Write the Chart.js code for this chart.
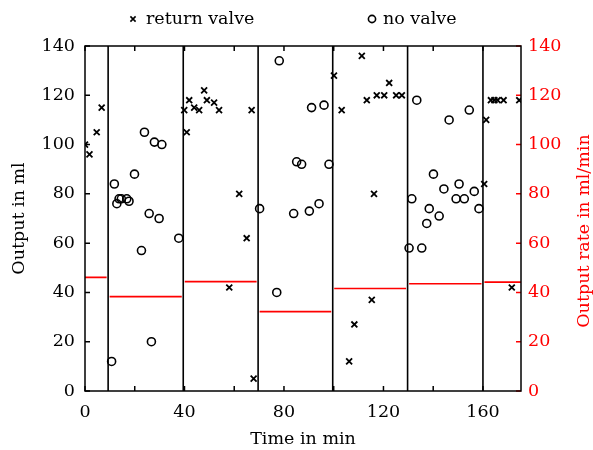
<!DOCTYPE html>
<html>
<head>
<meta charset="utf-8">
<script src="https://cdn.jsdelivr.net/npm/chart.js@4.4.1/dist/chart.umd.min.js"></script>
<style>
  html, body { margin: 0; padding: 0; background: #fff; }
  #wrap { width: 593px; height: 450px; }
</style>
</head>
<body>
<div id="wrap"><canvas id="chart" width="593" height="450"></canvas></div>
<script>
// values: time in min, output in ml
const returnValveTime = [0, 1.8, 4.7, 6.7, 39.9, 40.9, 41.9, 43.9, 45.9, 47.9, 49.0, 51.9, 53.9,
    58.0, 62.0, 65.0, 67.0, 67.8, 100.1, 103.2, 106.2, 108.3, 111.3, 113.3, 115.3, 116.2, 117.3,
    120.3, 122.3, 125.1, 127.4, 160.5, 161.3, 163.2, 164.6, 165.9, 168.3, 171.6, 174.6];
const returnValveOutput = [100, 96, 105, 115, 114, 105, 118, 115, 114, 122, 118, 117, 114,
    42, 80, 62, 114, 5, 128, 114, 12, 27, 136, 118, 37, 80, 120,
    120, 125, 120, 120, 84, 110, 118, 118, 118, 118, 42, 118];

const noValveTime = [10.7, 11.8, 12.8, 13.7, 14.6, 16.8, 17.7, 19.9, 22.7, 23.9, 25.8, 26.7, 27.9,
    29.8, 30.9, 37.7, 70.2, 77.1, 78.1, 83.9, 85.1, 87.1, 90.2, 91.1, 94.1, 96.1, 98.1,
    130.3, 131.4, 133.4, 135.4, 137.4, 138.4, 140.1, 142.4, 144.3, 146.4, 149.2, 150.4, 152.5,
    154.5, 156.5, 158.4];
const noValveOutput = [12, 84, 76, 78, 78, 78, 77, 88, 57, 105, 72, 20, 101,
    70, 100, 62, 74, 40, 134, 72, 93, 92, 73, 115, 76, 116, 92,
    58, 78, 118, 58, 68, 74, 88, 71, 82, 110, 78, 84, 78,
    114, 81, 74];

// phase changes (vertical lines) and mean output rate per phase (ml/min)
const phaseBounds = [9.3, 39.5, 69.6, 99.6, 129.7, 160.0];
const phaseRates = [46.1, 38.3, 44.4, 32.2, 41.6, 43.5, 44.2];

const timeMax = 175.3;
const outputMax = 140;
const timeLabels = [0, 40, 80, 120, 160];

const RED = '#ff0000';
const FONT = 'DejaVu Serif';
const FONT_SIZE = 17.5;
const segGap = 0.6;
const tickLen = 5;

Chart.defaults.font.family = FONT;
Chart.defaults.font.size = FONT_SIZE;
Chart.defaults.color = '#000';

const toPoints = (xs, ys) => xs.map((x, i) => ({x: x, y: ys[i]}));

// vertical lines, separated by gaps
const boundPoints = [];
phaseBounds.forEach(b => {
    boundPoints.push({x: b, y: 0}, {x: b, y: outputMax}, {x: b, y: null});
});

// red level per phase
const edges = [0].concat(phaseBounds, [timeMax]);
const ratePoints = [];
phaseRates.forEach((r, i) => {
    const x0 = i === 0 ? edges[i] : edges[i] + segGap;
    const x1 = i === phaseRates.length - 1 ? edges[i + 1] : edges[i + 1] - segGap;
    ratePoints.push({x: x0, y: r}, {x: x1, y: r}, {x: x1, y: null});
});

const frameTicks = {
    id: 'frameTicks',
    afterDatasetsDraw(chart) {
        const {ctx, chartArea: a, scales} = chart;
        ctx.save();
        ctx.lineWidth = 1.5;
        ctx.strokeStyle = '#000';
        ctx.beginPath();
        for (let v = 0; v <= timeMax; v += 20) {
            const px = scales.x.getPixelForValue(v);
            ctx.moveTo(px, a.bottom); ctx.lineTo(px, a.bottom - tickLen);
            ctx.moveTo(px, a.top); ctx.lineTo(px, a.top + tickLen);
        }
        scales.y.ticks.forEach(t => {
            const py = scales.y.getPixelForValue(t.value);
            ctx.moveTo(a.left, py); ctx.lineTo(a.left + tickLen, py);
        });
        ctx.stroke();
        ctx.strokeStyle = RED;
        ctx.beginPath();
        scales.y1.ticks.forEach(t => {
            const py = scales.y1.getPixelForValue(t.value);
            ctx.moveTo(a.right, py); ctx.lineTo(a.right - tickLen, py);
        });
        ctx.stroke();
        ctx.strokeStyle = '#000';
        ctx.strokeRect(a.left, a.top, a.right - a.left, a.bottom - a.top);

        // right axis title reads bottom-to-top like the left one
        ctx.translate(584, 231);
        ctx.rotate(-Math.PI / 2);
        ctx.fillStyle = RED;
        ctx.font = FONT_SIZE + 'px "' + FONT + '"';
        ctx.textAlign = 'center';
        ctx.textBaseline = 'middle';
        ctx.fillText('Output rate in ml/min', 0, 0);
        ctx.restore();
    }
};

// legend above the plot, marker + label per scatter series
const topLegend = {
    id: 'topLegend',
    afterDraw(chart) {
        const ctx = chart.ctx;
        const y = 19;
        const items = [
            {style: 'cross', mx: 133, tx: 146, text: chart.data.datasets[0].label},
            {style: 'circle', mx: 372, tx: 383, text: chart.data.datasets[1].label}
        ];
        ctx.save();
        ctx.strokeStyle = '#000';
        ctx.fillStyle = '#000';
        ctx.lineWidth = 1.6;
        items.forEach(it => {
            ctx.beginPath();
            if (it.style === 'cross') {
                ctx.moveTo(it.mx - 2.6, y - 2.6); ctx.lineTo(it.mx + 2.6, y + 2.6);
                ctx.moveTo(it.mx - 2.6, y + 2.6); ctx.lineTo(it.mx + 2.6, y - 2.6);
            } else {
                ctx.arc(it.mx, y, 3.6, 0, Math.PI * 2);
            }
            ctx.stroke();
            ctx.font = FONT_SIZE + 'px "' + FONT + '"';
            ctx.textBaseline = 'middle';
            ctx.textAlign = 'left';
            ctx.fillText(it.text, it.tx, y);
        });
        ctx.restore();
    }
};

const ctx = document.getElementById('chart').getContext('2d');
new Chart(ctx, {
    type: 'scatter',
    data: {
        datasets: [{
            label: 'return valve',
            data: toPoints(returnValveTime, returnValveOutput),
            pointStyle: 'crossRot',
            pointRadius: 4.2,
            pointBorderWidth: 1.8,
            borderColor: '#000',
            backgroundColor: '#000',
            clip: 0,
            yAxisID: 'y'
        }, {
            label: 'no valve',
            data: toPoints(noValveTime, noValveOutput),
            pointStyle: 'circle',
            pointRadius: 4,
            pointBorderWidth: 1.6,
            borderColor: '#000',
            backgroundColor: 'rgba(0,0,0,0)',
            clip: 0,
            yAxisID: 'y'
        }, {
            label: 'phases',
            data: boundPoints,
            showLine: true,
            spanGaps: false,
            pointRadius: 0,
            borderColor: '#000',
            borderWidth: 1.6,
            yAxisID: 'y'
        }, {
            label: 'rate',
            data: ratePoints,
            showLine: true,
            spanGaps: false,
            pointRadius: 0,
            borderColor: RED,
            borderWidth: 1.6,
            yAxisID: 'y1'
        }]
    },
    options: {
        responsive: false,
        animation: false,
        layout: { padding: { top: 46, left: 0, right: 0, bottom: 0 } },
        plugins: {
            legend: { display: false },
            tooltip: { enabled: false }
        },
        scales: {
            x: {
                type: 'linear',
                min: 0,
                max: timeMax,
                grid: { display: false, drawTicks: false },
                border: { display: false },
                ticks: {
                    stepSize: 20,
                    includeBounds: false,
                    autoSkip: false,
                    maxRotation: 0,
                    padding: 11,
                    callback: v => timeLabels.includes(v) ? String(v) : ''
                },
                title: { display: true, text: 'Time in min', padding: { top: 0, bottom: 0 } },
                afterFit: s => { s.height = 59; }
            },
            y: {
                type: 'linear',
                position: 'left',
                min: 0,
                max: outputMax,
                grid: { display: false, drawTicks: false },
                border: { display: false },
                ticks: { stepSize: 20, padding: 10 },
                title: { display: true, text: 'Output in ml', padding: { top: 9, bottom: 0 } },
                afterFit: s => { s.width = 85; }
            },
            y1: {
                type: 'linear',
                position: 'right',
                min: 0,
                max: outputMax,
                grid: { display: false, drawTicks: false },
                border: { display: false },
                ticks: { stepSize: 20, padding: 7, color: RED },
                title: { display: false },
                afterFit: s => { s.width = 72; }
            }
        }
    },
    plugins: [frameTicks, topLegend]
});
</script>
</body>
</html>
